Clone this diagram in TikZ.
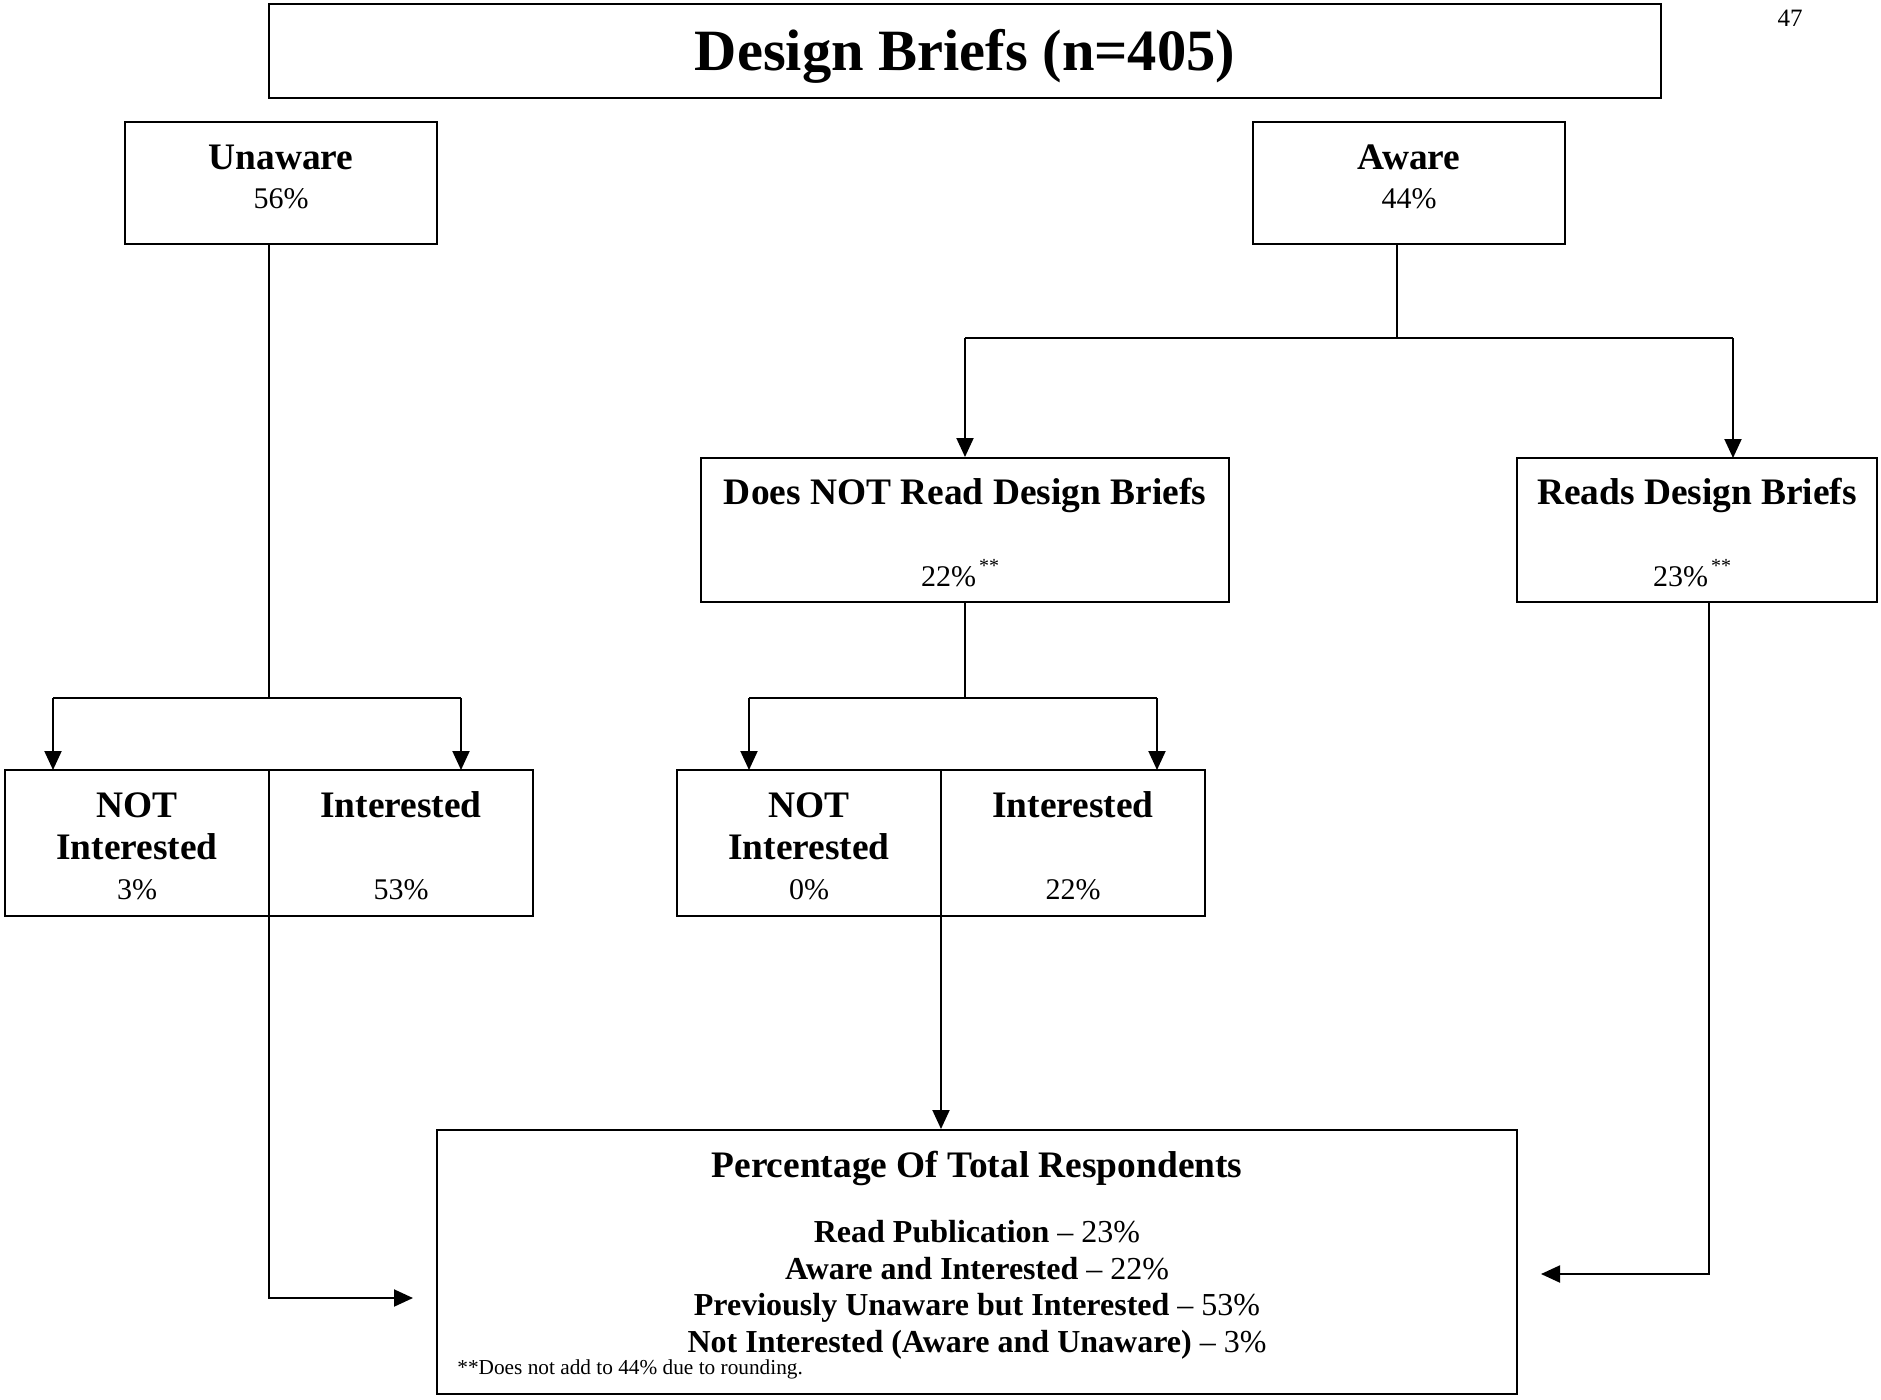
\documentclass[tikz,border=0pt]{standalone}
\usepackage{fontspec}
\setmainfont{Liberation Serif}
\usetikzlibrary{arrows.meta}
\tikzset{
  box/.style={draw, line width=1pt, rectangle, inner sep=0pt},
  conn/.style={line width=1pt},
  arr/.style={line width=1pt, -{Triangle[width=8.5pt,length=9.5pt]}},
  lbl/.style={anchor=base, inner sep=0pt, font=\fontsize{18.7}{20}\selectfont\bfseries},
  pct/.style={anchor=base, inner sep=0pt, font=\fontsize{15}{17}\selectfont},
  sum/.style={anchor=base, inner sep=0pt, font=\fontsize{16}{18}\selectfont},
}
\newcommand{\stars}{\hspace{1.5pt}\raisebox{7pt}{\fontsize{10}{10}\selectfont **}}
\begin{document}
\begin{tikzpicture}[x=0.5pt,y=-0.5pt]
\useasboundingbox (0,0) rectangle (1881,1399);
% boxes
\node[box, line width=1.4pt, minimum width=696pt, minimum height=47pt] (title) at (965,51) {};
\node[box, minimum width=156pt, minimum height=61pt] (unaware) at (281,183) {};
\node[box, minimum width=156pt, minimum height=61pt] (aware) at (1409,183) {};
\node[box, minimum width=264pt, minimum height=72pt] (doesnot) at (965,530) {};
\node[box, minimum width=180pt, minimum height=72pt] (reads) at (1697,530) {};
\node[box, minimum width=264pt, minimum height=73pt] (splitA) at (269,843) {};
\node[box, minimum width=264pt, minimum height=73pt] (splitB) at (941,843) {};
\node[box, minimum width=540pt, minimum height=132pt] (bottom) at (977,1262) {};
\draw[conn] (splitA.north) -- (splitA.south);
\draw[conn] (splitB.north) -- (splitB.south);
% texts
\node[anchor=base, inner sep=0pt, font=\fontsize{29.25}{30}\selectfont\bfseries] (ttl) at (965,70) {Design Briefs (n=405)};
\node[anchor=base, inner sep=0pt, font=\fontsize{12.5}{13}\selectfont] (pg) at (1790,26) {47};
\node[lbl] (t1) at (281,169) {Unaware};
\node[pct] (p1) at (281,208) {56\%};
\node[lbl] (t2) at (1409,169) {Aware};
\node[pct] (p2) at (1409,208) {44\%};
\node[lbl] (t3) at (965,504) {Does NOT Read Design Briefs};
\node[pct] (p3) at (960,586) {22\%\stars};
\node[lbl] (t4) at (1697,504) {Reads Design Briefs};
\node[pct] (p4) at (1692,586) {23\%\stars};
\node[lbl] (a1) at (137,817) {NOT};
\node[lbl] (a2) at (137,859) {Interested};
\node[pct] (a3) at (137,899) {3\%};
\node[lbl] (a4) at (401,817) {Interested};
\node[pct] (a5) at (401,899) {53\%};
\node[lbl] (b1) at (809,817) {NOT};
\node[lbl] (b2) at (809,859) {Interested};
\node[pct] (b3) at (809,899) {0\%};
\node[lbl] (b4) at (1073,817) {Interested};
\node[pct] (b5) at (1073,899) {22\%};
\node[lbl] (s0) at (977,1177) {Percentage Of Total Respondents};
\node[sum] (s1) at (977,1242) {\textbf{Read Publication} – 23\%};
\node[sum] (s2) at (977,1279) {\textbf{Aware and Interested} – 22\%};
\node[sum] (s3) at (977,1315) {\textbf{Previously Unaware but Interested} – 53\%};
\node[sum] (s4) at (977,1352) {\textbf{Not Interested (Aware and Unaware)} – 3\%};
\node[anchor=base west, inner sep=0pt, font=\fontsize{10.65}{11}\selectfont] (fn) at (457,1374) {**Does not add to 44\% due to rounding.};
% connectors
\coordinate (uj) at (269,698);
\draw[conn] (unaware.south -| splitA.north) -- (uj);
\draw[arr] (53,698) -- (53,770);
\draw[conn] (53,698) -- (461,698);
\draw[arr] (461,698) -- (461,770);
\coordinate (aj) at (1397,338);
\draw[conn] (aware.south -| aj) -- (aj);
\draw[conn] (doesnot.north |- aj) -- (1733,338);
\draw[arr] (doesnot.north |- aj) -- (doesnot.north);
\draw[arr] (1733,338) -- (1733,458);
\draw[conn] (doesnot.south) -- (965,698);
\draw[conn] (749,698) -- (1157,698);
\draw[arr] (749,698) -- (749,770);
\draw[arr] (1157,698) -- (1157,770);
\coordinate (le) at (413,1298);
\draw[arr] (splitA.south) |- (le);
\draw[arr] (splitB.south) -- (bottom.north -| splitB.south);
\coordinate (re) at (1541,1274);
\draw[arr] (reads.south -| 1709,0) |- (re);
\end{tikzpicture}
\end{document}
